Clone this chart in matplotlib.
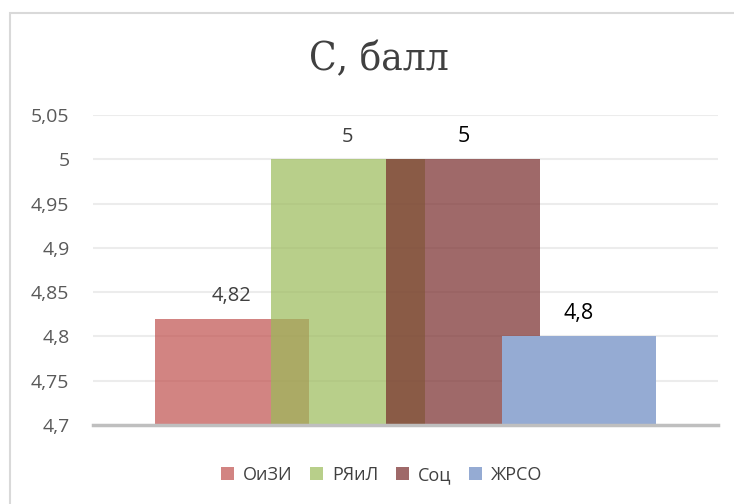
import matplotlib
matplotlib.use("AGG")
import matplotlib.pyplot as plt
from matplotlib.patches import Rectangle

series = ["ОиЗИ", "РЯиЛ", "Соц", "ЖРСО"]
values = [4.82, 5.0, 5.0, 4.8]
yticks = [4.7, 4.75, 4.8, 4.85, 4.9, 4.95, 5.0, 5.05]

colors = ["#c0504d", "#9bbb59", "#772a2a", "#95abd3"]
alphas = [0.7, 0.7, 0.7, 1.0]
label_colors = ["#404040", "#404040", "#000000", "#000000"]
label_sizes = [14.5, 14.5, 15.5, 15.5]

plt.rcParams["font.family"] = ["Open Sans", "DejaVu Sans"]

fig = plt.figure(figsize=(7.34, 5.04), dpi=100)
fig.patches.append(Rectangle((10 / 734, -0.05), 1.1, 1 - 13 / 504 + 0.05,
                             transform=fig.transFigure, fill=False,
                             edgecolor="#d9d9d9", linewidth=1.5))

ax = fig.add_axes([93 / 734, 1 - 425 / 504, 625 / 734, 310 / 504])

for i, (name, val) in enumerate(zip(series, values)):
    bars = ax.bar(i, val - 4.7, bottom=4.7, width=1.33, color=colors[i],
                  alpha=alphas[i], label=name, zorder=2 + i)
    ax.bar_label(bars, labels=[f"{val:g}".replace(".", ",")], padding=9,
                 fontsize=label_sizes[i], color=label_colors[i])

ax.set_xlim(-1.2, 4.2)
ax.set_ylim(4.7, 5.05)
ax.set_yticks(yticks)
ax.set_yticklabels([f"{t:g}".replace(".", ",") for t in yticks])
ax.set_xticks([])
ax.tick_params(axis="y", length=0, pad=17, labelsize=14, labelcolor="#595959")
ax.grid(axis="y", color="#ececec", linewidth=1.5, zorder=0)
ax.set_axisbelow(True)
for side in ["top", "right", "left"]:
    ax.spines[side].set_visible(False)
ax.spines["bottom"].set_color("#bfbfbf")
ax.spines["bottom"].set_linewidth(2.5)
ax.spines["bottom"].set_zorder(10)

fig.text(0.516, 1 - 60 / 504, "С, балл", ha="center", va="center",
         fontsize=29, family="DejaVu Serif", fontstretch="condensed",
         color="#404040")

handles, labels = ax.get_legend_handles_labels()
fig.legend(handles, labels, loc="center", bbox_to_anchor=(0.52, 1 - 475 / 504),
           ncol=4, frameon=False, fontsize=13, handlelength=0.7,
           handleheight=0.7, handletextpad=0.5, columnspacing=1.0,
           labelcolor="#404040")

fig.savefig("out.png", dpi=100)
